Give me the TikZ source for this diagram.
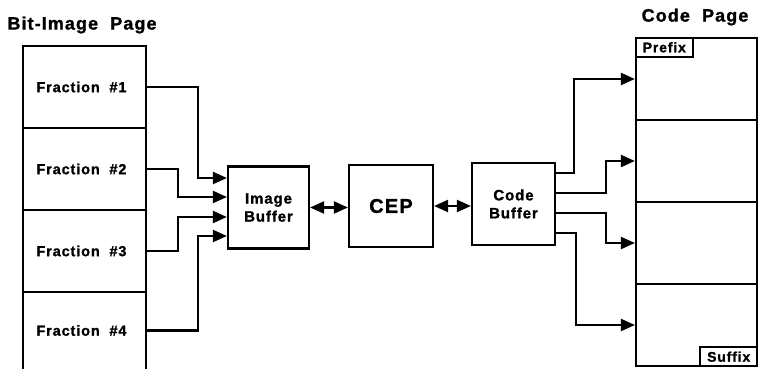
\documentclass[tikz,border=0pt]{standalone}
\usepackage{fontspec}
\setmainfont{Liberation Sans}[LetterSpace=6, BoldFeatures={FakeBold=1.2}]
\usetikzlibrary{arrows.meta,positioning,calc}

\tikzset{
  cell/.style={draw, line width=2.2pt, minimum width=123pt, minimum height=82pt, inner sep=0pt,
    text width=96pt, align=left, font=\bfseries\fontsize{14.5}{16}\selectfont},
  pagecell/.style={draw, line width=2.2pt, minimum width=121pt, minimum height=82pt, inner sep=0pt},
  buf/.style={draw, line width=2.2pt, minimum height=82pt, align=center,
    font=\bfseries\fontsize{15}{18}\selectfont},
  tag/.style={draw, line width=1.8pt, minimum width=57pt, minimum height=19pt, inner sep=0pt,
    font=\bfseries\fontsize{14}{14}\selectfont},
  pagetitle/.style={font=\bfseries\fontsize{18}{20}\selectfont},
  arr/.style={line width=2.2pt, -{Triangle[length=14pt,width=12pt]}},
  dblarr/.style={line width=2.2pt, {Triangle[length=14pt,width=12pt]}-{Triangle[length=14pt,width=12pt]}},
}

\begin{document}
\begin{tikzpicture}[x=1pt,y=-1pt]
  \useasboundingbox (0,0) rectangle (758,369);

  % bit-image page
  \node[pagetitle] (bitttl) at (82,25) {Bit-Image~~Page};
  \node[cell] (frac1) at (84.5,87) {Fraction~~\#1};
  \node[cell] (frac2) at (84.5,169) {Fraction~~\#2};
  \node[cell] (frac3) at (84.5,251) {Fraction~~\#3};
  \node[cell, draw=none, outer sep=0pt, minimum height=77pt] (frac4) at (84.5,330.5) {Fraction~~\#4};
  \draw[line width=2.2pt] (frac4.south west) -- (frac4.north west) -- (frac4.north east) -- (frac4.south east);

  % buffers
  \node[buf, minimum width=81pt] (imgbuf) at (268.5,207.5) {Image\\Buffer};
  \node[buf, minimum width=84pt, font=\bfseries\fontsize{20}{22}\selectfont] (cep) at (391,206) {CEP};
  \node[buf, minimum width=83pt] (codebuf) at (513.5,204) {Code\\Buffer};

  % code page
  \node[pagetitle] (codettl) at (695,17) {Code~~Page};
  \foreach \i/\y in {1/79,2/161,3/243,4/325}
    \node[pagecell] (page\i) at (696.5,\y) {};
  \node[tag, anchor=north west] (prefix) at (page1.north west) {Prefix};
  \node[tag, anchor=south east] (suffix) at (page4.south east) {Suffix};

  % fractions to image buffer
  \draw[arr] (frac1.east) -- ++(51,0) |- ($(imgbuf.west)+(0,-29.5)$);
  \draw[arr] (frac2.east) -- ++(31,0) |- ($(imgbuf.west)+(0,-10.5)$);
  \draw[arr] (frac3.east) -- ++(31,0) |- ($(imgbuf.west)+(0,9.5)$);
  \draw[arr] (frac4.east) -- ++(52,0) |- ($(imgbuf.west)+(0,28.5)$);

  \draw[dblarr] (imgbuf.east) -- (imgbuf.east -| cep.west);
  \draw[dblarr] (cep.east) -- (cep.east -| codebuf.west);

  % code buffer to code page
  \draw[arr] ($(codebuf.east)+(0,-31)$) -- ++(18,0) |- (page1.west);
  \draw[arr] ($(codebuf.east)+(0,-11)$) -- ++(50,0) |- (page2.west);
  \draw[arr] ($(codebuf.east)+(0,9)$) -- ++(50,0) |- (page3.west);
  \draw[arr] ($(codebuf.east)+(0,29)$) -- ++(20,0) |- (page4.west);
\end{tikzpicture}
\end{document}
